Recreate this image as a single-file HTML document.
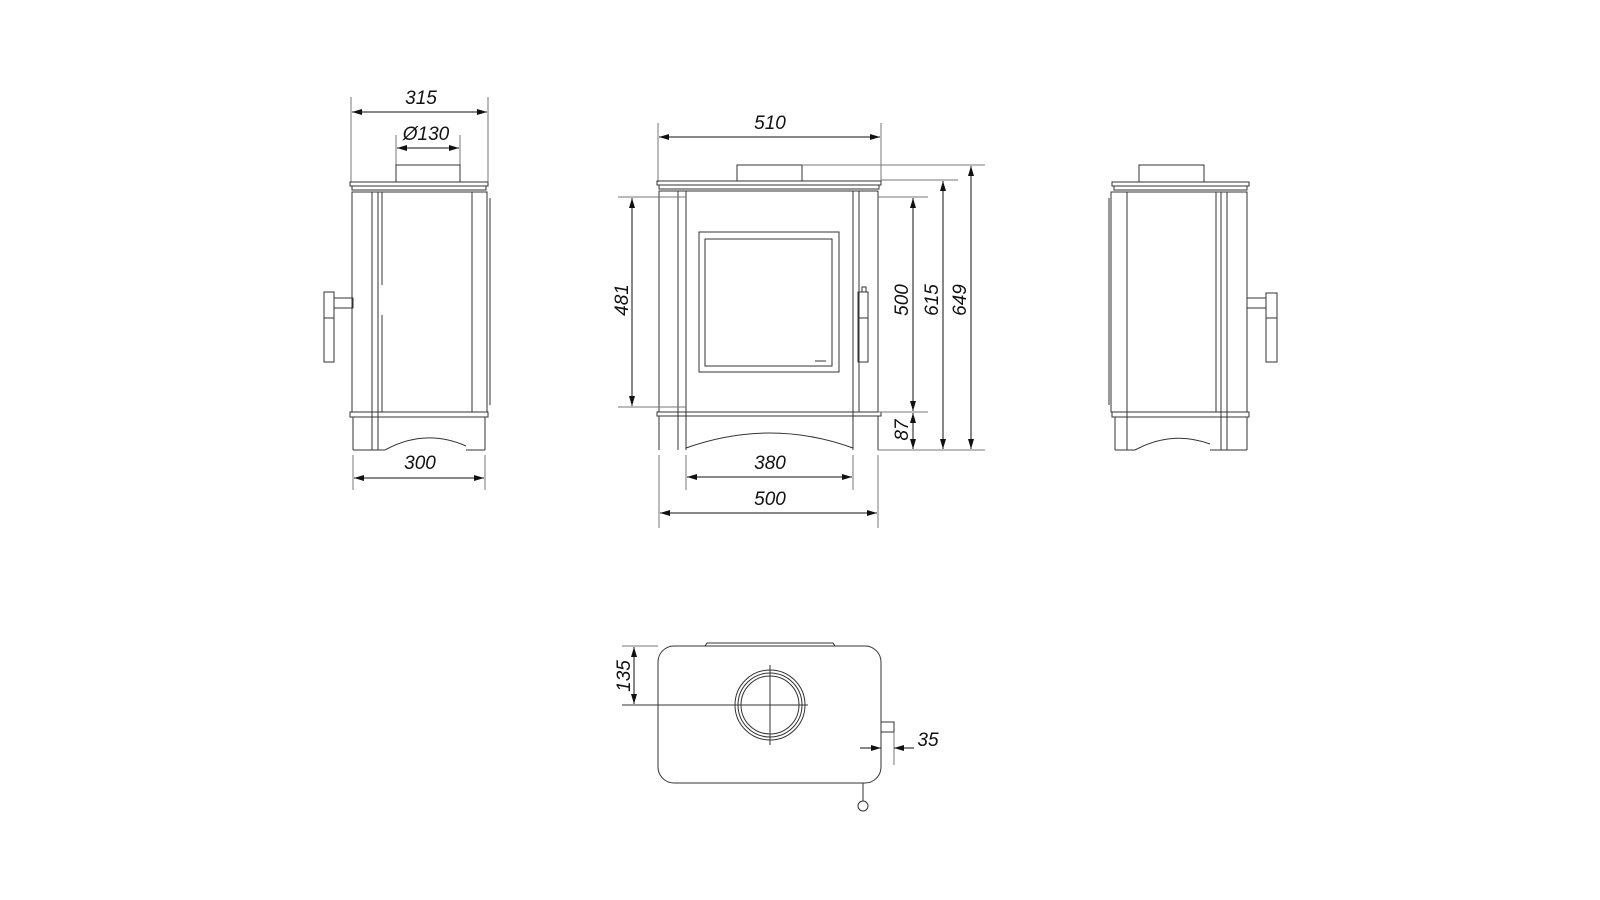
<!DOCTYPE html>
<html><head><meta charset="utf-8"><style>html,body{margin:0;padding:0;background:#fff}svg{display:block}</style></head>
<body>
<svg width="1600" height="900" viewBox="0 0 1600 900" xmlns="http://www.w3.org/2000/svg">
<defs>
<marker id="a" viewBox="0 0 10 6" refX="10" refY="3" markerWidth="10" markerHeight="6" orient="auto-start-reverse" markerUnits="userSpaceOnUse"><path d="M0,0 L10,3 L0,6 z" fill="#111"/></marker>
</defs>
<g fill="none" stroke="#333" stroke-width="1">
<!-- LEFT VIEW -->
<line x1="351" y1="97" x2="351" y2="182" stroke="#777"/><line x1="488" y1="97" x2="488" y2="182" stroke="#777"/>
<line x1="352" y1="112" x2="487" y2="112" marker-start="url(#a)" marker-end="url(#a)" stroke="#111"/>
<line x1="396" y1="135" x2="396" y2="182" stroke="#777"/><line x1="460" y1="135" x2="460" y2="182" stroke="#777"/>
<line x1="397" y1="148" x2="459" y2="148" marker-start="url(#a)" marker-end="url(#a)" stroke="#111"/>
<rect x="396" y="165" width="64" height="17"/>
<rect x="350" y="182" width="138" height="4"/><rect x="352" y="186" width="134" height="4"/>
<rect x="352" y="192" width="135" height="220"/>
<line x1="372" y1="192" x2="372" y2="450"/><line x1="378" y1="192" x2="378" y2="450"/>
<line x1="382" y1="192" x2="382" y2="285"/><line x1="382" y1="315" x2="382" y2="412"/>
<line x1="472" y1="192" x2="472" y2="412"/><line x1="490" y1="198" x2="490" y2="405"/>
<rect x="350" y="412" width="138" height="5"/>
<line x1="353" y1="417" x2="353" y2="450"/><line x1="485" y1="417" x2="485" y2="450"/>
<line x1="353" y1="450" x2="385" y2="450"/><line x1="466" y1="450" x2="485" y2="450"/>
<path d="M385,450 Q425,428 466,446"/>
<rect x="324" y="292" width="10" height="70"/><line x1="324" y1="318" x2="334" y2="318"/>
<rect x="334" y="298" width="19" height="10"/>
<line x1="353" y1="455" x2="353" y2="490" stroke="#777"/><line x1="485" y1="455" x2="485" y2="490" stroke="#777"/>
<line x1="354" y1="478" x2="484" y2="478" marker-start="url(#a)" marker-end="url(#a)" stroke="#111"/>

<!-- FRONT VIEW -->
<line x1="658" y1="123" x2="658" y2="182" stroke="#777"/><line x1="881" y1="123" x2="881" y2="182" stroke="#777"/>
<line x1="659" y1="137" x2="880" y2="137" marker-start="url(#a)" marker-end="url(#a)" stroke="#111"/>
<rect x="737" y="165" width="65" height="16"/>
<rect x="657" y="181" width="224" height="4"/><rect x="659" y="185" width="220" height="4"/>
<rect x="659" y="191" width="219" height="221"/>
<line x1="678" y1="191" x2="678" y2="450"/><line x1="686" y1="191" x2="686" y2="450"/>
<line x1="853" y1="191" x2="853" y2="450"/><line x1="859" y1="191" x2="859" y2="412"/>
<rect x="699" y="232" width="140" height="140"/><rect x="705" y="239" width="127" height="127"/>
<line x1="815" y1="361" x2="826" y2="361"/>
<rect x="858" y="292" width="10" height="70"/><rect x="862" y="287" width="4" height="5"/><line x1="858" y1="318" x2="868" y2="318"/>
<rect x="657" y="412" width="224" height="4"/>
<line x1="659" y1="416" x2="659" y2="450"/><line x1="878" y1="416" x2="878" y2="450"/>
<path d="M686,448 Q770,418 853,448"/>
<!-- dims -->
<line x1="618" y1="197" x2="686" y2="197" stroke="#777"/><line x1="618" y1="407" x2="686" y2="407" stroke="#777"/>
<line x1="632" y1="198" x2="632" y2="406" marker-start="url(#a)" marker-end="url(#a)" stroke="#111"/>
<line x1="802" y1="165" x2="985" y2="165" stroke="#777"/>
<line x1="881" y1="180" x2="958" y2="180" stroke="#777"/>
<line x1="878" y1="197" x2="928" y2="197" stroke="#777"/>
<line x1="878" y1="412" x2="928" y2="412" stroke="#777"/>
<line x1="878" y1="450" x2="985" y2="450" stroke="#777"/>
<line x1="913" y1="198" x2="913" y2="411" marker-start="url(#a)" marker-end="url(#a)" stroke="#111"/>
<line x1="913" y1="413" x2="913" y2="449" marker-start="url(#a)" marker-end="url(#a)" stroke="#111"/>
<line x1="943" y1="181" x2="943" y2="449" marker-start="url(#a)" marker-end="url(#a)" stroke="#111"/>
<line x1="971" y1="166" x2="971" y2="449" marker-start="url(#a)" marker-end="url(#a)" stroke="#111"/>
<line x1="686" y1="455" x2="686" y2="490" stroke="#777"/><line x1="853" y1="455" x2="853" y2="490" stroke="#777"/>
<line x1="687" y1="477" x2="852" y2="477" marker-start="url(#a)" marker-end="url(#a)" stroke="#111"/>
<line x1="659" y1="455" x2="659" y2="528" stroke="#777"/><line x1="878" y1="455" x2="878" y2="528" stroke="#777"/>
<line x1="660" y1="513" x2="877" y2="513" marker-start="url(#a)" marker-end="url(#a)" stroke="#111"/>

<!-- RIGHT VIEW -->
<rect x="1139" y="165" width="65" height="17"/>
<rect x="1112" y="182" width="137" height="4"/><rect x="1114" y="186" width="133" height="4"/>
<rect x="1111" y="192" width="136" height="220"/>
<line x1="1109" y1="198" x2="1109" y2="405"/>
<line x1="1127" y1="192" x2="1127" y2="450"/><line x1="1216" y1="192" x2="1216" y2="412"/>
<line x1="1221" y1="192" x2="1221" y2="450"/><line x1="1227" y1="192" x2="1227" y2="450"/>
<rect x="1112" y="412" width="137" height="5"/>
<line x1="1115" y1="417" x2="1115" y2="450"/><line x1="1247" y1="417" x2="1247" y2="450"/>
<line x1="1115" y1="450" x2="1135" y2="450"/><line x1="1210" y1="450" x2="1247" y2="450"/>
<path d="M1135,450 Q1172,430 1210,444"/>
<rect x="1247" y="298" width="19" height="10"/>
<rect x="1266" y="293" width="11" height="69"/><line x1="1266" y1="318" x2="1277" y2="318"/>

<!-- TOP VIEW -->
<rect x="658" y="646" width="223" height="137" rx="16"/>
<path d="M705,646 L707,643 L833,643 L835,646"/>
<circle cx="770" cy="705" r="35"/><circle cx="770" cy="705" r="32"/><circle cx="770" cy="705" r="29"/>
<line x1="770" y1="665" x2="770" y2="745"/>
<line x1="622" y1="705" x2="808" y2="705"/>
<line x1="622" y1="646" x2="658" y2="646" stroke="#777"/>
<line x1="634" y1="647" x2="634" y2="704" marker-start="url(#a)" marker-end="url(#a)" stroke="#111"/>
<rect x="881" y="722" width="13" height="10"/>
<line x1="894" y1="732" x2="894" y2="765" stroke="#777"/>
<line x1="860" y1="748" x2="881" y2="748" marker-end="url(#a)" stroke="#111"/>
<line x1="914" y1="748" x2="894" y2="748" marker-end="url(#a)" stroke="#111"/>
<line x1="863" y1="783" x2="863" y2="801"/><circle cx="863" cy="806" r="5"/>
</g>
<g font-family="Liberation Sans, sans-serif" font-style="italic" font-size="19" fill="#111" text-anchor="middle">
<text x="421" y="104">315</text>
<text x="426" y="140">Ø130</text>
<text x="420" y="469">300</text>
<text x="770" y="129">510</text>
<text x="770" y="469">380</text>
<text x="770" y="505">500</text>
<text transform="translate(628,300) rotate(-90)">481</text>
<text transform="translate(908,300) rotate(-90)">500</text>
<text transform="translate(938,300) rotate(-90)">615</text>
<text transform="translate(966,300) rotate(-90)">649</text>
<text transform="translate(908,430) rotate(-90)">87</text>
<text transform="translate(630,676) rotate(-90)">135</text>
<text x="928" y="746">35</text>
</g>
</svg>
</body></html>
